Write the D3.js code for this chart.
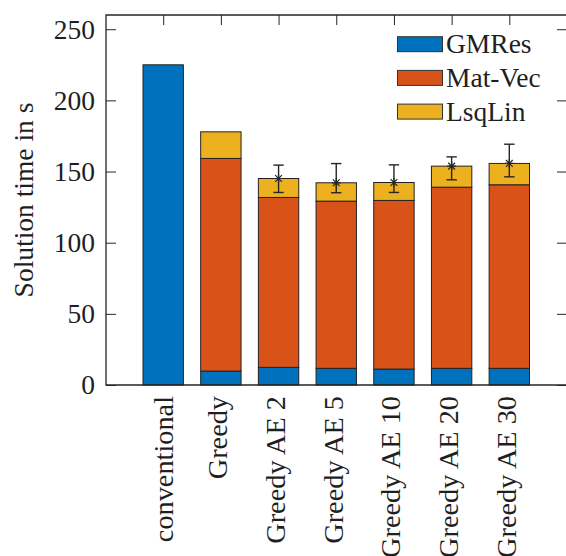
<!DOCTYPE html>
<html>
<head>
<meta charset="utf-8">
<script src="https://cdn.jsdelivr.net/npm/d3@7"></script>
<style>
  html, body { margin: 0; padding: 0; background: #fff; }
  svg { display: block; }
  text { font-family: "Liberation Serif", "Times New Roman", serif; fill: #1f1f1f; }
</style>
</head>
<body>
<svg id="chart" width="566" height="556"></svg>
<script>
// Solver configurations along the x axis
const categories = ["conventional", "Greedy", "Greedy AE 2", "Greedy AE 5", "Greedy AE 10", "Greedy AE 20", "Greedy AE 30"];

// Stacked time components (seconds)
const gmres  = [225, 9.8, 12.4, 11.7, 11.2, 11.7, 11.7];
const matVec = [0, 149.4, 119.4, 117.5, 118.5, 127.3, 129.0];
const lsqLin = [0, 18.7, 13.3, 12.9, 12.6, 14.8, 15.0];

// Spread of total time over repeated runs (null where not measured)
const errLow  = [null, null, 135.3, 135.1, 135.3, 144.2, 146.3];
const errHigh = [null, null, 154.5, 155.6, 154.7, 160.3, 169.2];

const seriesNames = ["GMRes", "Mat-Vec", "LsqLin"];
const seriesColors = ["#0072BD", "#D95319", "#EDB120"];
const yTicks = [0, 50, 100, 150, 200, 250];

const svg = d3.select("#chart");
const plotL = 106, plotR = 567, plotT = 15, plotB = 385;
const axisColor = "#262626";
const textColor = "#1f1f1f";
const fontSize = 27.5;
const catFontSize = 28.3;

const x = d3.scaleLinear().domain([0, categories.length + 1]).range([plotL - 0.5, plotR]);
const y = d3.scaleLinear().domain([0, 260]).range([plotB, plotT]);
const step = x(1) - x(0);
const barW = step * 0.7;

// Axes (ticks point inward)
const yAxis = svg.append("g").attr("transform", `translate(${plotL},0)`)
  .call(d3.axisLeft(y).tickValues(yTicks).tickSize(-10).tickPadding(11));
const yAxisR = svg.append("g").attr("transform", `translate(${plotR},0)`)
  .call(d3.axisRight(y).tickValues(yTicks).tickSize(-10).tickFormat(""));
const idx = d3.range(1, categories.length + 1);
const xAxis = svg.append("g").attr("transform", `translate(0,${plotB})`)
  .call(d3.axisBottom(x).tickValues(idx).tickSize(-10).tickFormat(i => categories[i - 1]));
const xAxisT = svg.append("g").attr("transform", `translate(0,${plotT})`)
  .call(d3.axisTop(x).tickValues(idx).tickSize(-10).tickFormat(""));

[yAxis, yAxisR, xAxis, xAxisT].forEach(g => {
  g.select(".domain").remove();
  g.selectAll(".tick line").attr("stroke", axisColor).attr("stroke-width", 1);
  g.selectAll("text").style("font-size", fontSize + "px").attr("fill", textColor)
    .style("font-family", '"Liberation Serif", serif');
});

// Rotated category labels, centred on the ink extent
xAxis.selectAll(".tick text")
  .style("font-size", catFontSize + "px")
  .attr("y", null).attr("dy", null)
  .attr("text-anchor", "end")
  .attr("transform", d => {
    const off = /[gjpqy]/.test(categories[d - 1]) ? 6 : 9.5;
    return `translate(${off},11) rotate(-90)`;
  });

// Stacked bars
const stackData = categories.map((c, i) => ({ i: i + 1, parts: [gmres[i], matVec[i], lsqLin[i]] }));
const barsG = svg.append("g");
stackData.forEach(d => {
  let base = 0;
  d.parts.forEach((v, k) => {
    if (v > 0) {
      barsG.append("rect")
        .attr("x", x(d.i) - barW / 2)
        .attr("y", y(base + v))
        .attr("width", barW)
        .attr("height", y(base) - y(base + v))
        .attr("fill", seriesColors[k])
        .attr("stroke", "#222")
        .attr("stroke-width", 1);
    }
    base += v;
  });
});

// Error bars with asterisk markers at the mean total
const errG = svg.append("g").attr("stroke", "#262626").attr("stroke-width", 1.4).attr("fill", "none");
categories.forEach((c, i) => {
  if (errLow[i] == null) return;
  const cx = x(i + 1);
  const total = gmres[i] + matVec[i] + lsqLin[i];
  const cap = 5.2;
  errG.append("line").attr("x1", cx).attr("x2", cx).attr("y1", y(errLow[i])).attr("y2", y(errHigh[i]));
  errG.append("line").attr("x1", cx - cap).attr("x2", cx + cap).attr("y1", y(errLow[i])).attr("y2", y(errLow[i]));
  errG.append("line").attr("x1", cx - cap).attr("x2", cx + cap).attr("y1", y(errHigh[i])).attr("y2", y(errHigh[i]));
  const cy = y(total), r = 4.5, rd = 3.4;
  errG.append("path")
    .attr("d", `M${cx - r},${cy}H${cx + r}M${cx},${cy - r}V${cy + r}` +
               `M${cx - rd},${cy - rd}L${cx + rd},${cy + rd}M${cx - rd},${cy + rd}L${cx + rd},${cy - rd}`)
    .attr("stroke-width", 1.2);
});

// Plot frame
svg.append("path")
  .attr("d", `M${plotL},${plotB}V${plotT}H${plotR}V${plotB}Z`)
  .attr("fill", "none").attr("stroke", axisColor).attr("stroke-width", 1.3);

// Y-axis title
svg.append("text")
  .attr("transform", `translate(33,${(plotT + plotB) / 2}) rotate(-90)`)
  .attr("text-anchor", "middle")
  .style("font-size", fontSize + "px")
  .text("Solution time in s");

// Legend
const legend = svg.append("g");
seriesNames.forEach((name, k) => {
  const cy = 44.2 + k * 33.7;
  legend.append("rect")
    .attr("x", 397.5).attr("y", cy - 7.5).attr("width", 45).attr("height", 15)
    .attr("fill", seriesColors[k]).attr("stroke", "#333").attr("stroke-width", 1);
  legend.append("text")
    .attr("x", 446).attr("y", cy + 9)
    .style("font-size", fontSize + "px")
    .text(name);
});
</script>
</body>
</html>
